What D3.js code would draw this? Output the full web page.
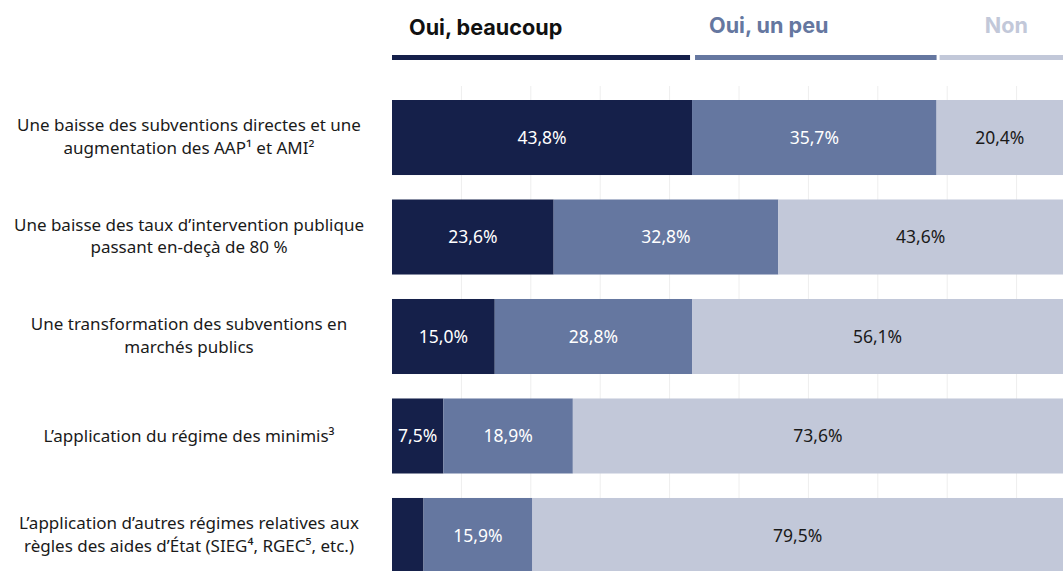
<meta charset="utf-8">
<script src="https://d3js.org/d3.v7.min.js"></script>
<style>
  body { margin: 0; background: #fff; }
  svg { display: block; }
</style>
<svg id="chart" width="1063" height="571"></svg>
<script>
// categories (each label split on two lines, "|" marks the break)
var categories = [
    "Une baisse des subventions directes et une|augmentation des AAP¹ et AMI²",
    "Une baisse des taux d’intervention publique|passant en-deçà de 80 %",
    "Une transformation des subventions en|marchés publics",
    "L’application du régime des minimis³",
    "L’application d’autres régimes relatives aux|règles des aides d’État (SIEG⁴, RGEC⁵, etc.)"
]
var seriesNames = ["Oui, beaucoup", "Oui, un peu", "Non"]
var beaucoup = [43.8, 23.6, 15.0, 7.5, 4.6]
var unPeu = [35.7, 32.8, 28.8, 18.9, 15.9]
var non = [20.4, 43.6, 56.1, 73.6, 79.5]
var gridTicks = [10, 20, 30, 40, 50, 60, 70, 80, 90]

var colors = ["#15204a", "#6577a0", "#c2c8d9"]
var legendColors = ["#111111", "#6577a0", "#c2c8d9"]
var valueColors = ["#ffffff", "#ffffff", "#1a1a1a"]

var svg = d3.select("#chart"),
    width = +svg.attr("width"),
    height = +svg.attr("height");

var rows = categories.map(function (c, i) {
    return { cat: c, "Oui, beaucoup": beaucoup[i], "Oui, un peu": unPeu[i], "Non": non[i] }
})

var stack = d3.stack().keys(seriesNames)
var layers = stack(rows)

var x = d3.scaleLinear().domain([0, 100]).range([392, 1077])
var gridX = d3.scaleLinear().domain([0, 100]).range([392, 1086])

var y = d3.scaleBand()
    .domain(d3.range(categories.length))
    .range([100, 573])
    .paddingInner(0.246)
    .paddingOuter(0)

// faint vertical grid
svg.append("g")
    .selectAll("line")
    .data(gridTicks)
    .enter().append("line")
    .attr("x1", d => gridX(d)).attr("x2", d => gridX(d))
    .attr("y1", 86).attr("y2", height)
    .style("stroke", "#eeeeee")
    .style("stroke-width", 1)

// legend : coloured rules over the first row's segments
var first = layers.map(l => l[0])
svg.append("g")
    .selectAll("rect")
    .data(first)
    .enter().append("rect")
    .attr("x", (d, i) => x(d[0]) + (i == 0 ? 0 : 3))
    .attr("width", (d, i) => x(d[1]) - x(d[0]) - (i == 0 ? 2 : 3))
    .attr("y", 55)
    .attr("height", 5)
    .style("fill", (d, i) => colors[i])

svg.append("g")
    .selectAll("text")
    .data(first)
    .enter().append("text")
    .attr("x", (d, i) => i == 2 ? (x(d[0]) + x(d[1])) / 2 : x(d[0]) + 17)
    .attr("y", (d, i) => i == 0 ? 35 : 33)
    .attr("text-anchor", (d, i) => i == 2 ? "middle" : "start")
    .text((d, i) => seriesNames[i])
    .style("font-family", "Inter, 'Liberation Sans', sans-serif")
    .style("font-weight", "700")
    .style("font-size", "21.6px")
    .style("fill", (d, i) => legendColors[i])

// bars
var groups = svg.append("g")
    .selectAll("g")
    .data(layers)
    .enter().append("g")
    .style("fill", (d, i) => colors[i])

groups.selectAll("rect")
    .data(d => d)
    .enter().append("rect")
    .attr("x", d => x(d[0]))
    .attr("y", (d, j) => y(j))
    .attr("width", d => x(d[1]) - x(d[0]))
    .attr("height", y.bandwidth())

// value labels
layers.forEach(function (layer, i) {
    svg.append("g")
        .selectAll("text")
        .data(layer.filter(d => d[1] - d[0] >= 5).map(d => ({ d: d, j: layer.indexOf(d) })))
        .enter().append("text")
        .attr("x", o => (x(o.d[0]) + Math.min(x(o.d[1]), width)) / 2)
        .attr("y", o => y(o.j) + y.bandwidth() / 2)
        .attr("dy", "0.35em")
        .attr("text-anchor", "middle")
        .text(o => d3.format(".1f")(o.d[1] - o.d[0]).replace(".", ",") + "%")
        .style("font-family", "'Noto Sans', sans-serif")
        .style("font-size", "17.5px")
        .style("fill", valueColors[i])
})

// category labels
var labels = svg.append("g")
    .selectAll("text")
    .data(categories)
    .enter().append("text")
    .attr("x", 189)
    .attr("y", (d, j) => y(j) + y.bandwidth() / 2)
    .attr("text-anchor", "middle")
    .style("font-family", "'Noto Sans', sans-serif")
    .style("font-size", "17px")
    .style("fill", "#1a1a1a")

labels.each(function (d) {
    var lines = d.split("|")
    var t = d3.select(this)
    lines.forEach(function (ln, k) {
        t.append("tspan")
            .attr("x", 189)
            .attr("dy", k == 0 ? (lines.length == 1 ? "0.35em" : "-0.38em") : "1.35em")
            .text(ln)
    })
})
</script>
